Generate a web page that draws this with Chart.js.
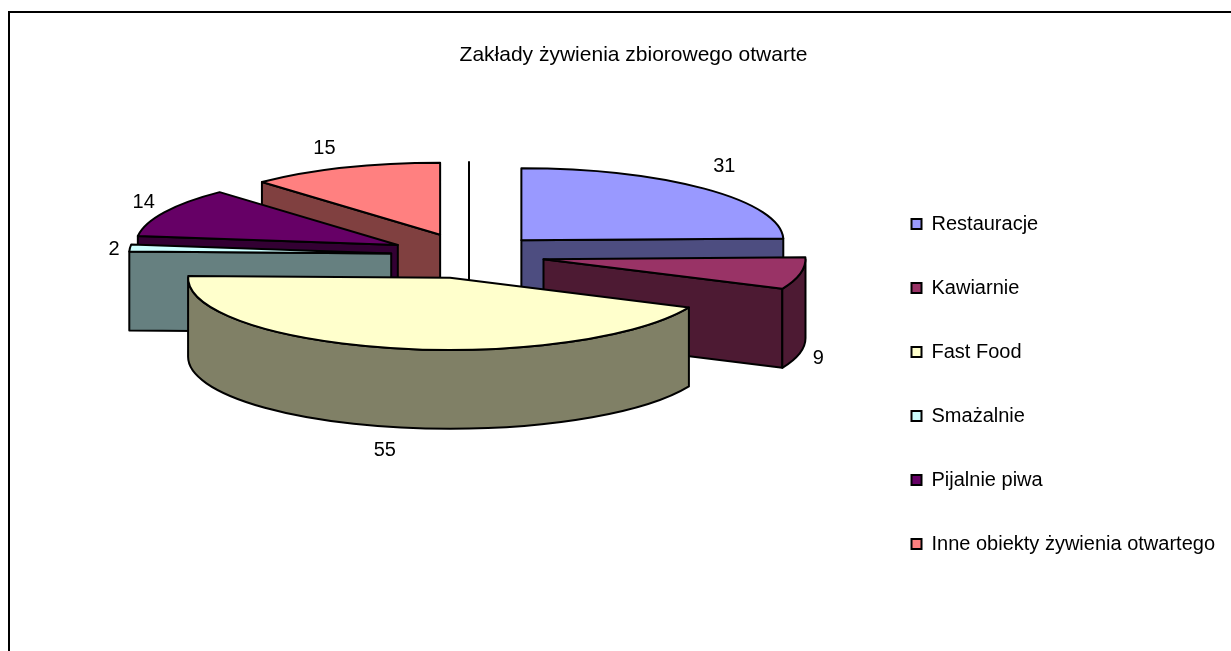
<!DOCTYPE html>
<html>
<head>
<meta charset="utf-8">
<style>html,body{margin:0;padding:0;background:#fff}#wrap{position:absolute;left:0;top:0;width:1231px;height:651px}</style>
<script src="https://cdn.jsdelivr.net/npm/chart.js@4/dist/chart.umd.js"></script>
</head>
<body>
<div id="wrap"><canvas id="c" width="1231" height="651"></canvas></div>
<script>
const chartTitle = 'Zakłady żywienia zbiorowego otwarte';
const categories = ['Restauracje','Kawiarnie','Fast Food','Smażalnie','Pijalnie piwa','Inne obiekty żywienia otwartego'];
const values = [31,9,55,2,14,15];
const topColors = ['#9999FF','#993366','#FFFFCC','#CCFFFF','#660066','#FF8080'];
const wallColors = ['#4D4D80','#4D1A33','#808066','#668080','#330033','#804040'];
// slice painting order, back to front
const paintOrder = [5,0,4,3,1,2];
const explode = [75,76,85,78,80,79];
// label nudges relative to the slice rim
const labelNudge = [[20,-22],[18,6],[-7,23],[-16,1],[-21,-10],[-20,-19]];

const view = {cx:469, cy:255, k:0.275, depth:79};

const pie3d = {
  id:'pie3d',
  beforeDraw(chart){
    const ctx = chart.ctx;
    ctx.save();
    ctx.fillStyle='#fff';ctx.fillRect(0,0,chart.width,chart.height);
    ctx.strokeStyle='#000';ctx.lineWidth=2;
    ctx.strokeRect(9,12,chart.width+20,chart.height+20);
    ctx.restore();
  },
  beforeDatasetsDraw(chart){
    const ctx = chart.ctx, arcs = chart.getDatasetMeta(0).data;
    const {cx,cy,k,depth} = view;
    ctx.save();
    ctx.lineWidth=2;ctx.lineJoin='round';ctx.strokeStyle='#000';
    const geo = arcs.map((a,i)=>{
      const mid=(a.startAngle+a.endAngle)/2;
      return {x:cx+Math.cos(mid)*explode[i], y:cy+Math.sin(mid)*explode[i]*k, r:a.outerRadius, s:a.startAngle, e:a.endAngle, mid};
    });
    // seam of the chart's start angle
    const r0=arcs[0].outerRadius, a0=arcs[0].startAngle;
    const sx=cx+Math.cos(a0)*explode[5], sy=cy+Math.sin(a0)*explode[5]*k;
    ctx.beginPath();ctx.moveTo(sx,sy+depth);ctx.lineTo(sx+Math.cos(a0)*r0,sy+Math.sin(a0)*r0*k);ctx.stroke();

    const pt=(g,a,d=0)=>[g.x+Math.cos(a)*g.r, g.y+Math.sin(a)*g.r*k+d];
    const quad=(g,a,col)=>{
      const p=pt(g,a);
      ctx.beginPath();ctx.moveTo(g.x,g.y);ctx.lineTo(p[0],p[1]);ctx.lineTo(p[0],p[1]+depth);ctx.lineTo(g.x,g.y+depth);ctx.closePath();
      ctx.fillStyle=col;ctx.fill();ctx.stroke();
    };
    paintOrder.forEach(i=>{
      const g=geo[i], col=wallColors[i];
      if(Math.cos(g.s)<0) quad(g,g.s,col);
      if(Math.cos(g.e)>0) quad(g,g.e,col);
      // outer wall: the part of the rim facing the viewer
      for(const off of [-2*Math.PI,0,2*Math.PI]){
        const s=Math.max(g.s+off,0), e=Math.min(g.e+off,Math.PI);
        if(e>s){
          ctx.beginPath();
          ctx.ellipse(g.x,g.y,g.r,g.r*k,0,s,e);
          ctx.ellipse(g.x,g.y+depth,g.r,g.r*k,0,e,s,true);
          ctx.closePath();
          ctx.fillStyle=col;ctx.fill();ctx.stroke();
        }
      }
      ctx.beginPath();ctx.moveTo(g.x,g.y);
      ctx.ellipse(g.x,g.y,g.r,g.r*k,0,g.s,g.e);
      ctx.closePath();
      ctx.fillStyle=topColors[i];ctx.fill();ctx.stroke();
    });
    // value labels
    ctx.fillStyle='#000';ctx.font='20px "Liberation Sans"';ctx.textAlign='center';ctx.textBaseline='middle';
    geo.forEach((g,i)=>{
      const p=pt(g,g.mid, Math.sin(g.mid)>0?depth:0);
      ctx.fillText(String(values[i]),p[0]+labelNudge[i][0],p[1]+labelNudge[i][1]);
    });
    ctx.restore();
    return false;
  }
};

new Chart(document.getElementById('c'),{
  type:'pie',
  data:{labels:categories,datasets:[{data:values,backgroundColor:topColors,borderColor:'#000',borderWidth:2}]},
  options:{
    responsive:false,animation:false,
    radius:262,
    layout:{padding:{left:42,right:6,top:39,bottom:0}},
    plugins:{
      tooltip:{enabled:false},
      title:{display:true,text:chartTitle,color:'#000',font:{family:'"Liberation Sans"',size:21,weight:'normal'},padding:{top:4,bottom:49}},
      legend:{position:'right',fullSize:false,labels:{boxWidth:10,boxHeight:10,padding:44,color:'#000',font:{family:'"Liberation Sans"',size:20}}}
    }
  },
  plugins:[pie3d]
});
</script>
</body>
</html>
